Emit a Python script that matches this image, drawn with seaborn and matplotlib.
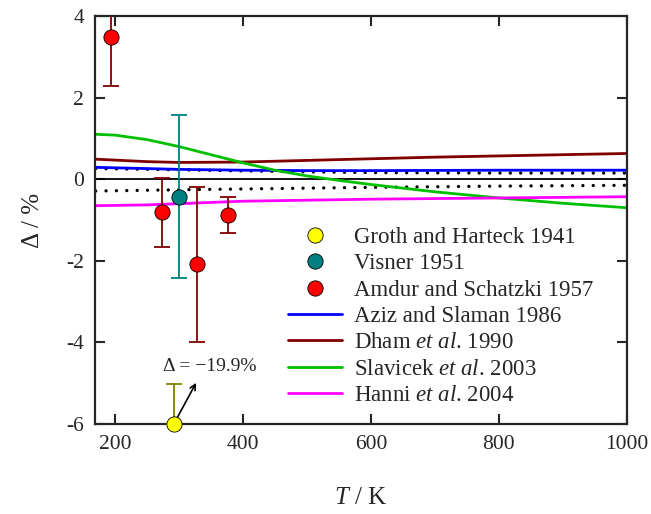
import matplotlib
matplotlib.use("Agg")
import matplotlib.pyplot as plt
import seaborn as sns
import pandas as pd

# experimental points: T / K, deviation / %, uncertainty / %
groth_T = [292]
groth_d = [-6.0]        # real value -19.9 %, drawn on the lower axis
groth_err_up = [0.98]

visner_T = [300]
visner_d = [-0.43]
visner_err = [2.0]

amdur_T = [194, 273, 328, 377]
amdur_d = [3.49, -0.81, -2.08, -0.88]
amdur_err = [1.2, 0.85, 1.9, 0.45]

# correlations
aziz_T = [170, 250, 300, 400, 500, 600, 800, 1000]
aziz_d = [0.29, 0.26, 0.24, 0.22, 0.21, 0.21, 0.22, 0.22]

dham_T = [170, 250, 300, 400, 500, 600, 700, 800, 900, 1000]
dham_d = [0.49, 0.43, 0.41, 0.42, 0.46, 0.50, 0.54, 0.57, 0.60, 0.63]

slav_T = [170, 200, 250, 300, 350, 400, 450, 500, 550, 600, 700, 800, 900, 1000]
slav_d = [1.10, 1.08, 0.97, 0.80, 0.60, 0.40, 0.22, 0.08, -0.03, -0.13, -0.31, -0.46, -0.59, -0.70]

hanni_T = [170, 250, 300, 400, 600, 800, 1000]
hanni_d = [-0.65, -0.63, -0.60, -0.54, -0.49, -0.46, -0.43]

# uncertainty band (dotted)
band_T = [170, 300, 450, 600, 800, 1000]
band_up = [0.26, 0.23, 0.19, 0.16, 0.15, 0.15]
band_lo = [-0.29, -0.26, -0.23, -0.20, -0.17, -0.15]

sns.set_style("ticks")
plt.rcParams['font.family'] = ['Liberation Serif', 'DejaVu Serif']
plt.rcParams['mathtext.fontset'] = 'custom'
plt.rcParams['mathtext.rm'] = 'Liberation Serif'
plt.rcParams['mathtext.it'] = 'Liberation Serif:italic'
plt.rcParams['axes.unicode_minus'] = False

fig = plt.figure(figsize=(6.51, 5.14), dpi=100)
ax = fig.add_axes([0.146, 0.175, 0.817, 0.794])

# zero line and dotted band
ax.axhline(0, color="black", lw=1.3, zorder=1)
for yy in (band_up, band_lo):
    sns.lineplot(x=band_T, y=yy, ax=ax, color="black", lw=2.4,
                 linestyle=(0, (0.01, 3.1)), dash_capstyle="round", zorder=1)

lines = [
    (aziz_T, aziz_d, "#0000ff", "Aziz and Slaman 1986"),
    (dham_T, dham_d, "#800000", "Dham $et\\ al$. 1990"),
    (slav_T, slav_d, "#00c000", "Slavicek $et\\ al$. 2003"),
    (hanni_T, hanni_d, "#ff00ff", "Hanni $et\\ al$. 2004"),
]
line_handles = []
for tt, dd, col, lab in lines:
    df = pd.DataFrame({"T": tt, "d": dd})
    sns.lineplot(data=df, x="T", y="d", ax=ax, color=col, lw=2, zorder=2)
    line_handles.append((plt.Line2D([], [], color=col, lw=2), lab))

# error bars
ax.errorbar(amdur_T, amdur_d, yerr=amdur_err, fmt="none", ecolor="#800000",
            elinewidth=1.3, capsize=6, capthick=1.3, zorder=3)
ax.errorbar(visner_T, visner_d, yerr=visner_err, fmt="none", ecolor="#008080",
            elinewidth=1.3, capsize=6, capthick=1.3, zorder=3)
ax.errorbar(groth_T, groth_d, yerr=[[0], groth_err_up], fmt="none", ecolor="#808000",
            elinewidth=1.3, capsize=6, capthick=1.3, zorder=3)

pts = [
    (groth_T, groth_d, "#ffff00", "Groth and Harteck 1941"),
    (visner_T, visner_d, "#008080", "Visner 1951"),
    (amdur_T, amdur_d, "#ff0000", "Amdur and Schatzki 1957"),
]
pt_handles = []
n_before = len(ax.collections)
for tt, dd, col, lab in pts:
    sns.scatterplot(x=tt, y=dd, ax=ax, color=col, s=120, edgecolor="black",
                    linewidth=0.6, zorder=5)
    pt_handles.append((plt.Line2D([], [], ls="none", marker="o", markersize=11,
                                  markerfacecolor=col, markeredgecolor="black",
                                  markeredgewidth=0.6), lab))
for c in ax.collections[n_before:]:
    c.set_clip_on(False)

ax.annotate("", xy=(329, -4.93), xytext=(292, -6.0),
            arrowprops=dict(arrowstyle="->", color="black", lw=1.2))
ax.text(348, -4.6, "Δ = −19.9%", ha="center", va="center", fontsize=14)

handles = pt_handles + line_handles
ax.legend([h for h, _ in handles], [l for _, l in handles], loc="upper left",
          bbox_to_anchor=(0.363, 0.483), frameon=False, fontsize=16.5,
          handlelength=2.35, handletextpad=0.52, labelspacing=0.23,
          borderpad=0, borderaxespad=0)

ax.set_xlim(169, 1000)
ax.set_ylim(-6, 4)
ax.set_xticks([200, 400, 600, 800, 1000])
ax.set_yticks([-6, -4, -2, 0, 2, 4])
ax.tick_params(direction="in", length=7, width=1.5, top=True, right=True,
               labelsize=15.5, pad=8)
for s in ax.spines.values():
    s.set_linewidth(1.6)
    s.set_visible(True)

ax.set_xlabel("$T$ / K", fontsize=18, labelpad=24)
ax.set_ylabel("Δ / %", fontsize=18, labelpad=16)

fig.savefig("out.png", dpi=100)
